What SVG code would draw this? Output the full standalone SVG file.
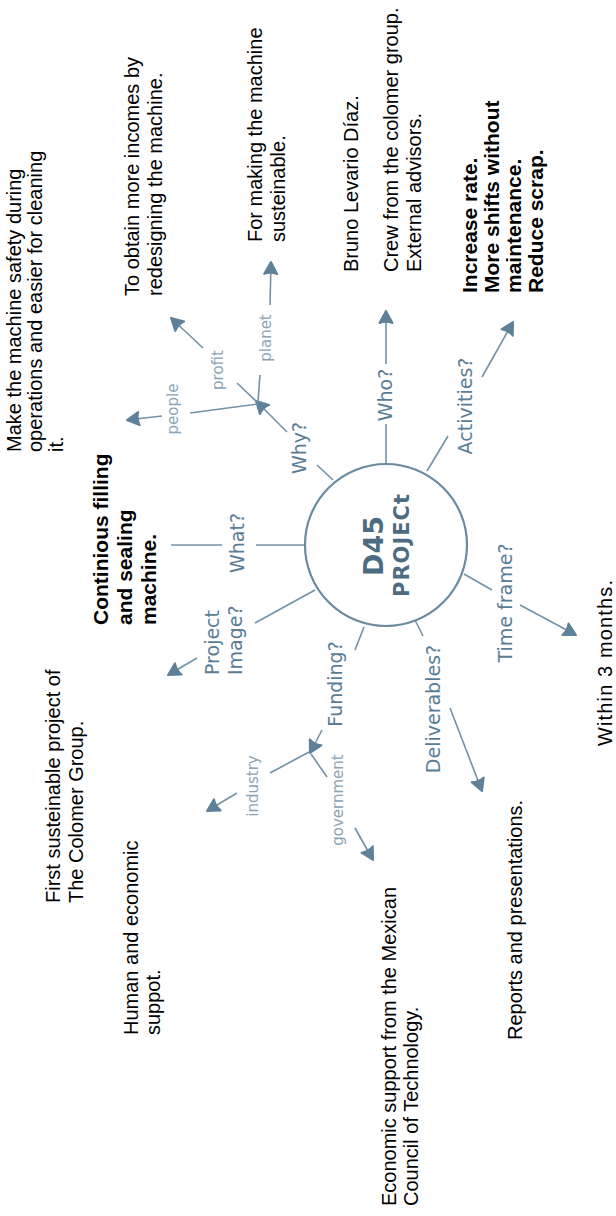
<svg xmlns="http://www.w3.org/2000/svg" width="616" height="1216" viewBox="0 0 616 1216">
<style>
.bk{font-family:"Liberation Sans",Arial,sans-serif;font-size:20px;fill:#000}
.bb{font-family:"Liberation Sans",Arial,sans-serif;font-size:21px;font-weight:bold;fill:#000}
.lb{font-family:"DejaVu Sans",sans-serif;font-size:19px;fill:#5a7d96;text-anchor:middle}
.lp{font-family:"DejaVu Sans",sans-serif;font-size:19px;fill:#5a7d96}
.sm{font-family:"DejaVu Sans",sans-serif;font-size:15px;fill:#8ba4b5;text-anchor:middle}
.ln{stroke:#7392a6;stroke-width:1.6;fill:none}
.ar{marker-end:url(#ah)}
</style>
<defs>
<marker id="ah" viewBox="0 0 16 16" refX="14" refY="8" markerWidth="16" markerHeight="16" markerUnits="userSpaceOnUse" orient="auto">
<path d="M2,1.5 L14,8 L2,14.5 Q4.5,8 2,1.5 Z" fill="#5e8199" stroke="#5e8199" stroke-width="2" stroke-linejoin="round"/>
</marker>
</defs>
<rect width="616" height="1216" fill="#fff"/>
<g id="connectors">
<path class="ln" d="M305,545 H256 M222,545 H171"/>
<path class="ln" d="M333,480 L317,465"/>
<path class="ln ar" d="M287,432 L256,401"/>
<path class="ln" d="M258,404 L190,413"/>
<path class="ln ar" d="M162,416 L127,420"/>
<path class="ln" d="M257,402 L237,383"/>
<path class="ln ar" d="M203,348 L171,318"/>
<path class="ln" d="M258,402 L260,375"/>
<path class="ln ar" d="M270,305 L271,262"/>
<path class="ln" d="M386,463 L386,424"/>
<path class="ln ar" d="M386,364 L386,311"/>
<path class="ln" d="M427,471 L448,436"/>
<path class="ln ar" d="M482,377 L513,322"/>
<path class="ln" d="M464,574 L492,590"/>
<path class="ln ar" d="M520,605 L576,635"/>
<path class="ln" d="M415,620 L423,636"/>
<path class="ln ar" d="M450,708 L482,791"/>
<path class="ln" d="M315,590 L255,623"/>
<path class="ln ar" d="M197,658 L168,675"/>
<path class="ln" d="M364,627 L355,650"/>
<path class="ln ar" d="M322,730 L310,753"/>
<path class="ln" d="M309,752 L270,773"/>
<path class="ln ar" d="M237,793 L207,811"/>
<path class="ln" d="M311,754 L327,777"/>
<path class="ln ar" d="M355,828 L373,860"/>
</g>
<g id="center">
<circle cx="386" cy="545" r="81" fill="#fff" stroke="#6a8aa0" stroke-width="2.2"/>
<text transform="translate(383,546) rotate(-90)" style="font-family:'DejaVu Sans',sans-serif;font-weight:bold;font-size:27px;fill:#4d6c82;text-anchor:middle">D45</text>
<text transform="translate(409,545) rotate(-90)" style="font-family:'DejaVu Sans',sans-serif;font-weight:bold;font-size:21px;fill:#4d6c82;text-anchor:middle;letter-spacing:1px">PROJECt</text>
</g>
<g id="what"><text class="lb" transform="translate(244,543) rotate(-90)">What?</text></g>
<g id="why"><text class="lb" transform="translate(306,448) rotate(-90)">Why?</text></g>
<g id="who"><text class="lb" transform="translate(392,395) rotate(-90)">Who?</text></g>
<g id="activities"><text class="lb" transform="translate(472,406) rotate(-90)">Activities?</text></g>
<g id="timeframe"><text class="lb" transform="translate(512,603) rotate(-90)">Time frame?</text></g>
<g id="deliverables"><text class="lb" transform="translate(440,709) rotate(-90)">Deliverables?</text></g>
<g id="funding"><text class="lb" transform="translate(342,684) rotate(-90)">Funding?</text></g>
<g id="projectimage"><text class="lp" transform="translate(219,675) rotate(-90)"><tspan x="0" y="0">Project</tspan><tspan x="0" y="23">Image?</tspan></text></g>
<g id="people"><text class="sm" transform="translate(178,409) rotate(-90)">people</text></g>
<g id="profit"><text class="sm" transform="translate(223,370) rotate(-90)">profit</text></g>
<g id="planet"><text class="sm" transform="translate(271,338) rotate(-90)">planet</text></g>
<g id="industry"><text class="sm" transform="translate(258,786) rotate(-90)">industry</text></g>
<g id="government"><text class="sm" transform="translate(343,800) rotate(-90)">government</text></g>
<g id="t-people"><text class="bk" transform="translate(21,452) rotate(-90)"><tspan x="0" y="0">Make the machine safety during</tspan><tspan x="0" y="21">operations and easier for cleaning</tspan><tspan x="0" y="42">it.</tspan></text></g>
<g id="t-profit"><text class="bk" transform="translate(139,296) rotate(-90)"><tspan x="0" y="0">To obtain more incomes by</tspan><tspan x="0" y="23">redesigning the machine.</tspan></text></g>
<g id="t-planet"><text class="bk" transform="translate(262,242) rotate(-90)"><tspan x="0" y="0">For making the machine</tspan><tspan x="0" y="23">susteinable.</tspan></text></g>
<g id="t-who"><text class="bk" transform="translate(358,272) rotate(-90)">Bruno Levario Díaz.</text><text class="bk" transform="translate(398,272) rotate(-90)"><tspan x="0" y="0">Crew from the colomer group.</tspan><tspan x="0" y="23">External advisors.</tspan></text></g>
<g id="t-activities"><text class="bb" transform="translate(477,293) rotate(-90)"><tspan x="0" y="0">Increase rate.</tspan><tspan x="0" y="22">More shifts without</tspan><tspan x="0" y="44">maintenance.</tspan><tspan x="0" y="66">Reduce scrap.</tspan></text></g>
<g id="t-what"><text class="bb" transform="translate(108,625) rotate(-90)"><tspan x="0" y="0">Continious filling</tspan><tspan x="0" y="24">and sealing</tspan><tspan x="0" y="48">machine.</tspan></text></g>
<g id="t-image"><text class="bk" transform="translate(60,903) rotate(-90)"><tspan x="0" y="0">First susteinable project of</tspan><tspan x="0" y="23">The Colomer Group.</tspan></text></g>
<g id="t-industry"><text class="bk" transform="translate(138,1035) rotate(-90)"><tspan x="0" y="0">Human and economic</tspan><tspan x="0" y="22">suppot.</tspan></text></g>
<g id="t-government"><text class="bk" transform="translate(396,1206) rotate(-90)"><tspan x="0" y="0">Economic support from the Mexican</tspan><tspan x="0" y="22">Council of Technology.</tspan></text></g>
<g id="t-deliverables"><text class="bk" transform="translate(522,1040) rotate(-90)">Reports and presentations.</text></g>
<g id="t-timeframe"><text class="bk" transform="translate(612,746) rotate(-90)" textLength="166">Within 3 months.</text></g>
</svg>
